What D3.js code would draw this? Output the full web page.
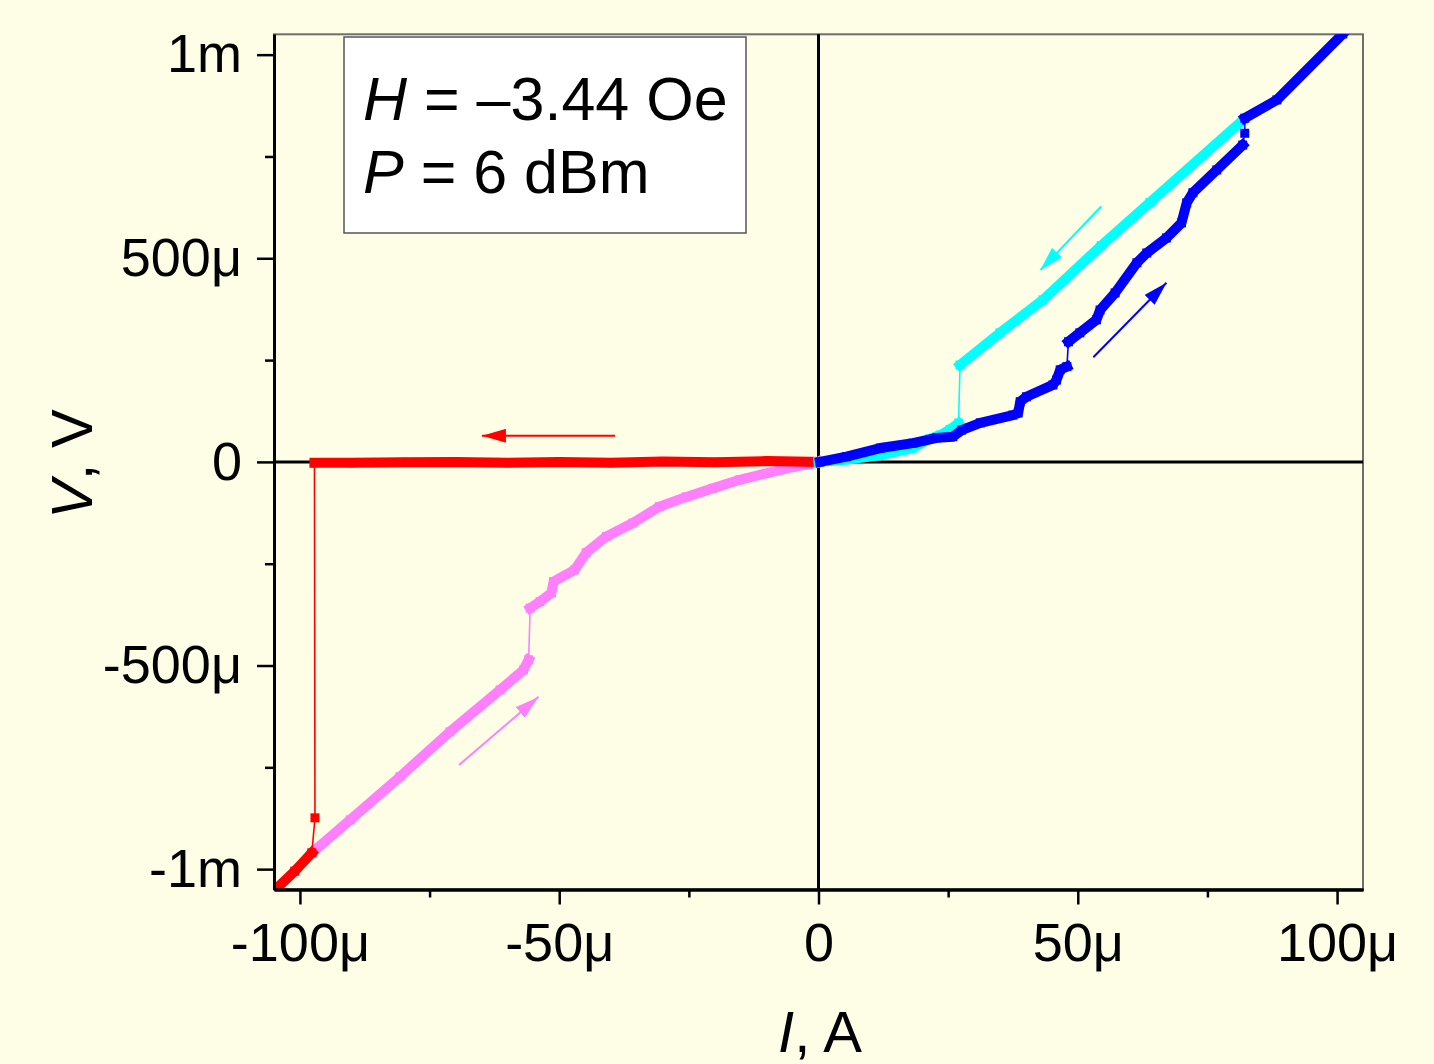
<!DOCTYPE html>
<html>
<head>
<meta charset="utf-8">
<script src="https://cdn.jsdelivr.net/npm/d3@7"></script>
<style>
  html, body { margin: 0; padding: 0; background: #FEFEE6; }
  svg { display: block; }
  text { font-family: "Liberation Sans", Arial, sans-serif; fill: #000; }
</style>
</head>
<body>
<div id="chart"></div>
<script>
// ===== Data read off the I-V sweep (current in µA, voltage in µV) =====
// every series is a list of branches: markers inside a branch touch each other,
// between branches the sweep jumps and only the thin line is left

const blueBranches = [
    [[0.3, 0], [5.4, 13], [11.9, 34], [18.2, 46], [22.8, 59], [25.9, 62], [27.6, 78], [31.2, 96],
     [37.5, 115], [38.5, 120], [38.9, 148], [40.1, 160], [45.2, 189], [45.9, 201], [46.6, 226], [47.9, 234]],
    [[48.2, 295], [50.4, 317], [53.6, 349], [54.3, 373], [57.2, 415], [61.4, 489], [63.3, 513], [67.1, 550],
     [70.0, 587], [71.0, 636], [72.2, 661], [76.8, 717], [81.8, 778]],
    [[82.2, 807]],
    [[82.2, 844], [88.4, 889], [101.1, 1051]]
];

const cyanBranches = [
    [[81.9, 840], [63.9, 637], [54.5, 531], [43.3, 398], [35.0, 317], [27.3, 238]],
    [[27.0, 95], [25.4, 80], [23.5, 66], [21.5, 57], [18.1, 34], [11.8, 16], [5.2, 5], [0, 0]]
];

const redBranches = [
    [[0, 0], [-10, 2], [-20, -1], [-30, 1], [-40, -2], [-50, 0], [-60, -2], [-70, 0], [-80, -1],
     [-90, -2], [-97.2, -2]],
    [[-97.1, -874]],
    [[-97.7, -960], [-101, -1005], [-104.8, -1051]]
];

const pinkBranches = [
    [[-97.7, -960], [-90.3, -879], [-80.7, -773], [-71.1, -663], [-61.4, -560], [-56.9, -511], [-55.9, -486]],
    [[-55.6, -359], [-53.7, -343], [-51.5, -322], [-51.1, -294], [-47.0, -265], [-44.8, -223], [-40.9, -183],
     [-35.8, -150], [-30.7, -110], [-25.5, -86], [-20.4, -65], [-15.2, -44], [-10.1, -28], [-5.0, -13],
     [-0.4, -3], [0, 0]]
];

// sweep direction arrows [from, to]
const redArrow = [[-39.2, 64], [-64.9, 64]];
const cyanArrow = [[54.5, 627], [42.8, 471]];
const blueArrow = [[53.0, 257], [67.1, 440]];
const pinkArrow = [[-69.3, -744], [-54.0, -577]];

// ticks
const xTicks = [-100, -50, 0, 50, 100];
const xTickLabels = ["-100μ", "-50μ", "0", "50μ", "100μ"];
const xMinorTicks = [-75, -25, 25, 75];
const yTicks = [-1000, -500, 0, 500, 1000];
const yTickLabels = ["-1m", "-500μ", "0", "500μ", "1m"];
const yMinorTicks = [-750, -250, 250, 750];

// ===== Layout =====
const W = 1434, H = 1064;
const plot = { left: 274, right: 1363, top: 34.3, bottom: 889.5 };

const svg = d3.select("#chart")
    .append("svg")
    .attr("width", W)
    .attr("height", H);

svg.append("rect")
    .attr("width", W).attr("height", H)
    .attr("fill", "#FEFEE6");

const x = d3.scaleLinear().domain([-105, 105]).range([plot.left, plot.right]);
const y = d3.scaleLinear().domain([-1050, 1050]).range([plot.bottom, plot.top]);

// clip for the data
svg.append("defs").append("clipPath")
    .attr("id", "plotClip")
    .append("rect")
    .attr("x", plot.left).attr("y", plot.top)
    .attr("width", plot.right - plot.left)
    .attr("height", plot.bottom - plot.top);

// frame (top and right sides are the thin grey ones)
svg.append("rect")
    .attr("x", plot.left).attr("y", plot.top)
    .attr("width", plot.right - plot.left)
    .attr("height", plot.bottom - plot.top)
    .attr("fill", "none")
    .attr("stroke", "#6e6e6e")
    .attr("stroke-width", 2);

// zero lines through the origin
svg.append("line")
    .attr("x1", x(0)).attr("x2", x(0))
    .attr("y1", plot.top).attr("y2", plot.bottom)
    .attr("stroke", "#000").attr("stroke-width", 3);
svg.append("line")
    .attr("x1", plot.left).attr("x2", plot.right)
    .attr("y1", y(0)).attr("y2", y(0))
    .attr("stroke", "#000").attr("stroke-width", 3);

// ===== Curves =====
const line = d3.line().x(d => x(d[0])).y(d => y(d[1]));
const dataLayer = svg.append("g").attr("clip-path", "url(#plotClip)");

function DrawSweep(branches, color)
/* thin line through the whole sweep, then thick marker bands per branch */ {
    const all = branches.flat();
    dataLayer.append("path")
        .attr("d", line(all))
        .attr("fill", "none")
        .attr("stroke", color)
        .attr("stroke-width", 1.6);

    branches.forEach(b => {
        if (b.length > 1) {
            dataLayer.append("path")
                .attr("d", line(b))
                .attr("fill", "none")
                .attr("stroke", color)
                .attr("stroke-width", 10)
                .attr("stroke-linejoin", "round")
                .attr("stroke-linecap", "square");
        }
    });

    // square markers
    dataLayer.selectAll(null)
        .data(all)
        .join("rect")
        .attr("x", d => x(d[0]) - 4.5)
        .attr("y", d => y(d[1]) - 4.5)
        .attr("width", 9)
        .attr("height", 9)
        .attr("fill", color);
}

DrawSweep(pinkBranches, "#FF80FF");
DrawSweep(redBranches, "#FF0000");
DrawSweep(cyanBranches, "#00FFFF");
DrawSweep(blueBranches, "#0000FF");

// ===== Arrows =====
function DrawArrow(pts, color, id) {
    svg.select("defs").append("marker")
        .attr("id", id)
        .attr("viewBox", "0 0 24 14")
        .attr("refX", 24).attr("refY", 7)
        .attr("markerWidth", 24).attr("markerHeight", 14)
        .attr("markerUnits", "userSpaceOnUse")
        .attr("orient", "auto")
        .append("path")
        .attr("d", "M0,0 L24,7 L0,14 Z")
        .attr("fill", color);

    svg.append("line")
        .attr("x1", x(pts[0][0])).attr("y1", y(pts[0][1]))
        .attr("x2", x(pts[1][0])).attr("y2", y(pts[1][1]))
        .attr("stroke", color)
        .attr("stroke-width", 2)
        .attr("marker-end", `url(#${id})`);
}

DrawArrow(redArrow, "#FF0000", "arrRed");
DrawArrow(cyanArrow, "#00FFFF", "arrCyan");
DrawArrow(blueArrow, "#0000FF", "arrBlue");
DrawArrow(pinkArrow, "#FF80FF", "arrPink");

// ===== Axes =====
function StyleAxis(g) {
    g.attr("font-family", "'Liberation Sans', Arial, sans-serif")
        .attr("font-size", 54);
    g.select(".domain").attr("stroke-width", 3);
    g.selectAll(".tick line").attr("stroke-width", 2.5);
    g.selectAll(".tick text").attr("fill", "#000");
}

svg.append("g")
    .attr("transform", `translate(${plot.left},0)`)
    .call(d3.axisLeft(y).tickValues(yMinorTicks).tickFormat("").tickSize(9).tickSizeOuter(0))
    .call(StyleAxis);
svg.append("g")
    .attr("transform", `translate(${plot.left},0)`)
    .call(d3.axisLeft(y).tickValues(yTicks).tickFormat((d, i) => yTickLabels[i])
        .tickSize(17).tickPadding(15).tickSizeOuter(0))
    .call(StyleAxis);

svg.append("g")
    .attr("transform", `translate(0,${plot.bottom})`)
    .call(d3.axisBottom(x).tickValues(xMinorTicks).tickFormat("").tickSize(8).tickSizeOuter(0))
    .call(StyleAxis);
svg.append("g")
    .attr("transform", `translate(0,${plot.bottom})`)
    .call(d3.axisBottom(x).tickValues(xTicks).tickFormat((d, i) => xTickLabels[i])
        .tickSize(15).tickPadding(18).tickSizeOuter(0))
    .call(StyleAxis);

// axis titles
const xTitle = svg.append("text")
    .attr("x", 778).attr("y", 1052)
    .attr("font-size", 58);
xTitle.append("tspan").attr("font-style", "italic").text("I");
xTitle.append("tspan").text(", A");

const yTitle = svg.append("text")
    .attr("transform", "translate(92,464) rotate(-90)")
    .attr("text-anchor", "middle")
    .attr("font-size", 58);
yTitle.append("tspan").attr("font-style", "italic").text("V");
yTitle.append("tspan").text(", V");

// ===== Parameter box =====
svg.append("rect")
    .attr("x", 344).attr("y", 37)
    .attr("width", 402).attr("height", 196)
    .attr("fill", "#FFFFFF")
    .attr("stroke", "#555")
    .attr("stroke-width", 1.5);

const l1 = svg.append("text").attr("x", 363).attr("y", 120).attr("font-size", 61);
l1.append("tspan").attr("font-style", "italic").text("H");
l1.append("tspan").text(" = –3.44 Oe");

const l2 = svg.append("text").attr("x", 363).attr("y", 193).attr("font-size", 61);
l2.append("tspan").attr("font-style", "italic").text("P");
l2.append("tspan").text(" = 6 dBm");
</script>
</body>
</html>
